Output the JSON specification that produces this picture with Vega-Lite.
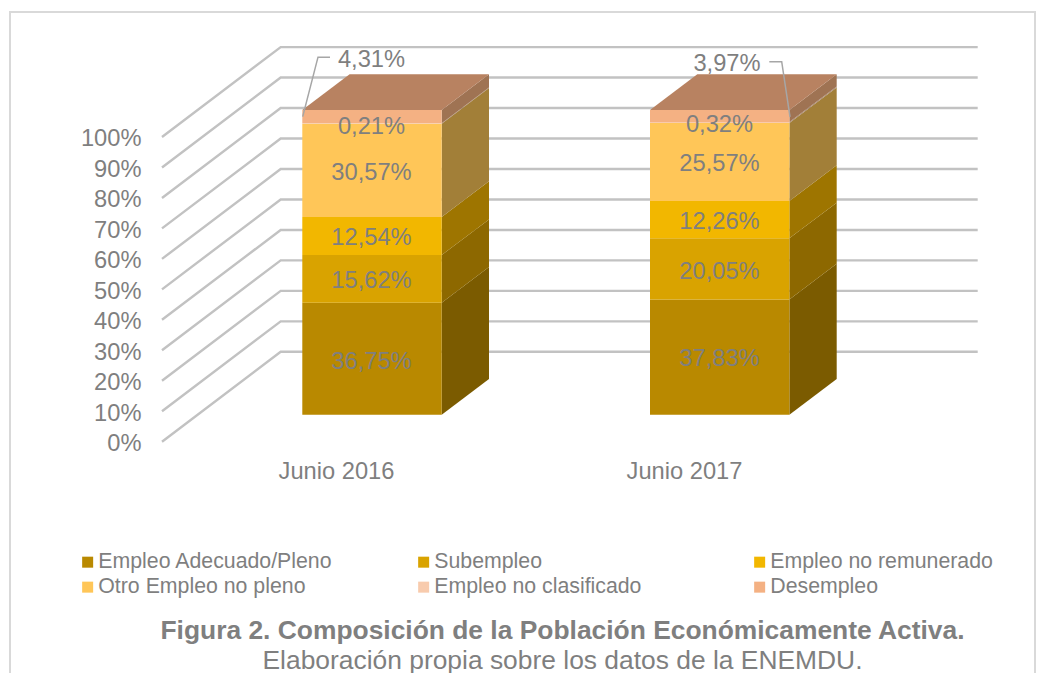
{
"$schema":"https://vega.github.io/schema/vega-lite/v6.json",
"width":1025,"height":678,"autosize":{"type":"none"},
"padding":{"left":10,"top":12,"right":14,"bottom":0},
"background":"white",
"title":{"text":"Figura 2. Composición de la Población Económicamente Activa.","subtitle":"Elaboración propia sobre los datos de la ENEMDU.","anchor":"middle","frame":"group","orient":"top","dx":40,"dy":666,"fontSize":26.4,"fontWeight":"bold","color":"#7f7f7f","subtitleFontSize":26.4,"subtitleColor":"#7f7f7f","subtitlePadding":3,"font":"Liberation Sans","subtitleFont":"Liberation Sans"},
"config":{"font":"Liberation Sans","view":{"stroke":"#d9d9d9","strokeWidth":2}},
"datasets":{
"grid":[
{"nivel":0,"x":0,"y":0},{"nivel":0,"x":118.7,"y":29.5},{"nivel":0,"x":815.7,"y":29.5},
{"nivel":10,"x":0,"y":10},{"nivel":10,"x":118.7,"y":39.5},{"nivel":10,"x":815.7,"y":39.5},
{"nivel":20,"x":0,"y":20},{"nivel":20,"x":118.7,"y":49.5},{"nivel":20,"x":815.7,"y":49.5},
{"nivel":30,"x":0,"y":30},{"nivel":30,"x":118.7,"y":59.5},{"nivel":30,"x":815.7,"y":59.5},
{"nivel":40,"x":0,"y":40},{"nivel":40,"x":118.7,"y":69.5},{"nivel":40,"x":815.7,"y":69.5},
{"nivel":50,"x":0,"y":50},{"nivel":50,"x":118.7,"y":79.5},{"nivel":50,"x":815.7,"y":79.5},
{"nivel":60,"x":0,"y":60},{"nivel":60,"x":118.7,"y":89.5},{"nivel":60,"x":815.7,"y":89.5},
{"nivel":70,"x":0,"y":70},{"nivel":70,"x":118.7,"y":99.5},{"nivel":70,"x":815.7,"y":99.5},
{"nivel":80,"x":0,"y":80},{"nivel":80,"x":118.7,"y":109.5},{"nivel":80,"x":815.7,"y":109.5},
{"nivel":90,"x":0,"y":90},{"nivel":90,"x":118.7,"y":119.5},{"nivel":90,"x":815.7,"y":119.5},
{"nivel":100,"x":0,"y":100},{"nivel":100,"x":118.7,"y":129.5},{"nivel":100,"x":815.7,"y":129.5}
],
"frente":[
{"periodo":"Junio 2016","serie":"Empleo Adecuado/Pleno","x":140.3,"x2":279.7,"y":8.86,"y2":45.61},
{"periodo":"Junio 2016","serie":"Subempleo","x":140.3,"x2":279.7,"y":45.61,"y2":61.23},
{"periodo":"Junio 2016","serie":"Empleo no remunerado","x":140.3,"x2":279.7,"y":61.23,"y2":73.77},
{"periodo":"Junio 2016","serie":"Otro Empleo no pleno","x":140.3,"x2":279.7,"y":73.77,"y2":104.34},
{"periodo":"Junio 2016","serie":"Empleo no clasificado","x":140.3,"x2":279.7,"y":104.34,"y2":104.55},
{"periodo":"Junio 2016","serie":"Desempleo","x":140.3,"x2":279.7,"y":104.55,"y2":108.86},
{"periodo":"Junio 2017","serie":"Empleo Adecuado/Pleno","x":488,"x2":627.4,"y":8.86,"y2":46.69},
{"periodo":"Junio 2017","serie":"Subempleo","x":488,"x2":627.4,"y":46.69,"y2":66.74},
{"periodo":"Junio 2017","serie":"Empleo no remunerado","x":488,"x2":627.4,"y":66.74,"y2":79.0},
{"periodo":"Junio 2017","serie":"Otro Empleo no pleno","x":488,"x2":627.4,"y":79.0,"y2":104.57},
{"periodo":"Junio 2017","serie":"Empleo no clasificado","x":488,"x2":627.4,"y":104.57,"y2":104.89},
{"periodo":"Junio 2017","serie":"Desempleo","x":488,"x2":627.4,"y":104.89,"y2":108.86}
],
"lado":[
{"periodo":"Junio 2016","serie":"Empleo Adecuado/Pleno","x":279.7,"y":8.86,"y2":45.61},{"periodo":"Junio 2016","serie":"Empleo Adecuado/Pleno","x":327,"y":20.56,"y2":57.31},
{"periodo":"Junio 2016","serie":"Subempleo","x":279.7,"y":45.61,"y2":61.23},{"periodo":"Junio 2016","serie":"Subempleo","x":327,"y":57.31,"y2":72.93},
{"periodo":"Junio 2016","serie":"Empleo no remunerado","x":279.7,"y":61.23,"y2":73.77},{"periodo":"Junio 2016","serie":"Empleo no remunerado","x":327,"y":72.93,"y2":85.47},
{"periodo":"Junio 2016","serie":"Otro Empleo no pleno","x":279.7,"y":73.77,"y2":104.34},{"periodo":"Junio 2016","serie":"Otro Empleo no pleno","x":327,"y":85.47,"y2":116.04},
{"periodo":"Junio 2016","serie":"Empleo no clasificado","x":279.7,"y":104.34,"y2":104.55},{"periodo":"Junio 2016","serie":"Empleo no clasificado","x":327,"y":116.04,"y2":116.25},
{"periodo":"Junio 2016","serie":"Desempleo","x":279.7,"y":104.55,"y2":108.86},{"periodo":"Junio 2016","serie":"Desempleo","x":327,"y":116.25,"y2":120.56},
{"periodo":"Junio 2017","serie":"Empleo Adecuado/Pleno","x":627.4,"y":8.86,"y2":46.69},{"periodo":"Junio 2017","serie":"Empleo Adecuado/Pleno","x":674.7,"y":20.56,"y2":58.39},
{"periodo":"Junio 2017","serie":"Subempleo","x":627.4,"y":46.69,"y2":66.74},{"periodo":"Junio 2017","serie":"Subempleo","x":674.7,"y":58.39,"y2":78.44},
{"periodo":"Junio 2017","serie":"Empleo no remunerado","x":627.4,"y":66.74,"y2":79.0},{"periodo":"Junio 2017","serie":"Empleo no remunerado","x":674.7,"y":78.44,"y2":90.7},
{"periodo":"Junio 2017","serie":"Otro Empleo no pleno","x":627.4,"y":79.0,"y2":104.57},{"periodo":"Junio 2017","serie":"Otro Empleo no pleno","x":674.7,"y":90.7,"y2":116.27},
{"periodo":"Junio 2017","serie":"Empleo no clasificado","x":627.4,"y":104.57,"y2":104.89},{"periodo":"Junio 2017","serie":"Empleo no clasificado","x":674.7,"y":116.27,"y2":116.59},
{"periodo":"Junio 2017","serie":"Desempleo","x":627.4,"y":104.89,"y2":108.86},{"periodo":"Junio 2017","serie":"Desempleo","x":674.7,"y":116.59,"y2":120.56}
],
"tapa":[
{"periodo":"Junio 2016","x":140.3,"y":108.86,"y2":108.86},{"periodo":"Junio 2016","x":187.6,"y":120.56,"y2":108.86},{"periodo":"Junio 2016","x":279.7,"y":120.56,"y2":108.86},{"periodo":"Junio 2016","x":327,"y":120.56,"y2":120.56},
{"periodo":"Junio 2017","x":488,"y":108.86,"y2":108.86},{"periodo":"Junio 2017","x":535.3,"y":120.56,"y2":108.86},{"periodo":"Junio 2017","x":627.4,"y":120.56,"y2":108.86},{"periodo":"Junio 2017","x":674.7,"y":120.56,"y2":120.56}
],
"guias":[
{"periodo":"Junio 2016","x":140.7,"y":106.7},{"periodo":"Junio 2016","x":156,"y":126.2},{"periodo":"Junio 2016","x":168,"y":126.2},
{"periodo":"Junio 2017","x":628,"y":106.6},{"periodo":"Junio 2017","x":619.7,"y":124.7},{"periodo":"Junio 2017","x":607.3,"y":124.7}
],
"etiquetas":[
{"texto":"36,75%","x":209.5,"y":26.5},{"texto":"15,62%","x":209.5,"y":53.1},{"texto":"12,54%","x":209.5,"y":67.5},{"texto":"30,57%","x":209.5,"y":88.8},{"texto":"0,21%","x":209.5,"y":103.9},{"texto":"4,31%","x":209.5,"y":125.9},
{"texto":"37,83%","x":557.5,"y":27.5},{"texto":"20,05%","x":557.5,"y":56.3},{"texto":"12,26%","x":557.5,"y":72.6},{"texto":"25,57%","x":557.5,"y":91.5},{"texto":"0,32%","x":557.5,"y":104.3},{"texto":"3,97%","x":565,"y":124.3}
]
},
"encoding":{
"x":{"field":"x","type":"quantitative","scale":{"domain":[-152,873],"nice":false,"zero":false},
"axis":{"title":null,"grid":false,"domain":false,"ticks":false,"values":[174,522],"labelExpr":"datum.value==174?'Junio 2016':'Junio 2017'","labelFontSize":23.7,"labelColor":"#7f7f7f","offset":-231,"labelPadding":0,"labelOverlap":false}},
"y":{"field":"y","type":"quantitative","stack":null,"scale":{"domain":[-81.49,141.02],"nice":false,"zero":false},
"axis":{"title":null,"grid":false,"domain":false,"ticks":false,"values":[0,10,20,30,40,50,60,70,80,90,100],"labelExpr":"datum.value+'%'","labelFontSize":23.7,"labelColor":"#7f7f7f","offset":-131,"labelPadding":0,"labelOffset":2,"labelOverlap":false}}
},
"layer":[
{"data":{"name":"grid"},"mark":{"type":"line","stroke":"#c2c2c2","strokeWidth":2.4,"clip":false},"encoding":{"detail":{"field":"nivel"}}},
{"data":{"name":"lado"},"mark":{"type":"area","interpolate":"linear"},"encoding":{
"y2":{"field":"y2"},"detail":{"field":"periodo"},
"color":{"field":"serie","type":"nominal","legend":null,"scale":{"domain":["Empleo Adecuado/Pleno","Subempleo","Empleo no remunerado","Otro Empleo no pleno","Empleo no clasificado","Desempleo"],"range":["#7b5b00","#8d6800","#9e7500","#a27f38","#a5836a","#9f7353"]}}}},
{"data":{"name":"tapa"},"mark":{"type":"area","interpolate":"linear","color":"#b88261"},"encoding":{"y2":{"field":"y2"},"detail":{"field":"periodo"}}},
{"data":{"name":"frente"},"mark":{"type":"rect"},"encoding":{
"x2":{"field":"x2"},"y2":{"field":"y2"},
"color":{"field":"serie","type":"nominal","title":null,"scale":{"domain":["Empleo Adecuado/Pleno","Subempleo","Empleo no remunerado","Otro Empleo no pleno","Empleo no clasificado","Desempleo"],"range":["#b98900","#d9a300","#f2b700","#ffc658","#f8cbad","#f4b183"]},
"legend":{"orient":"none","legendX":67,"legendY":539.5,"columns":3,"gridAlign":"all","direction":"horizontal","symbolType":"square","symbolSize":121,"symbolStrokeWidth":0,"labelFontSize":21.3,"labelColor":"#7f7f7f","labelOffset":0,"labelLimit":400,"columnPadding":80,"rowPadding":3,"padding":0}}}},
{"data":{"name":"guias"},"mark":{"type":"line","stroke":"#a6a6a6","strokeWidth":1.5},"encoding":{"detail":{"field":"periodo"}}},
{"data":{"name":"etiquetas"},"mark":{"type":"text","fontSize":23.7,"color":"#7f7f7f","align":"center","baseline":"middle","dy":1.5},"encoding":{"text":{"field":"texto"}}}
],
"resolve":{"scale":{"color":"independent"}}
}
